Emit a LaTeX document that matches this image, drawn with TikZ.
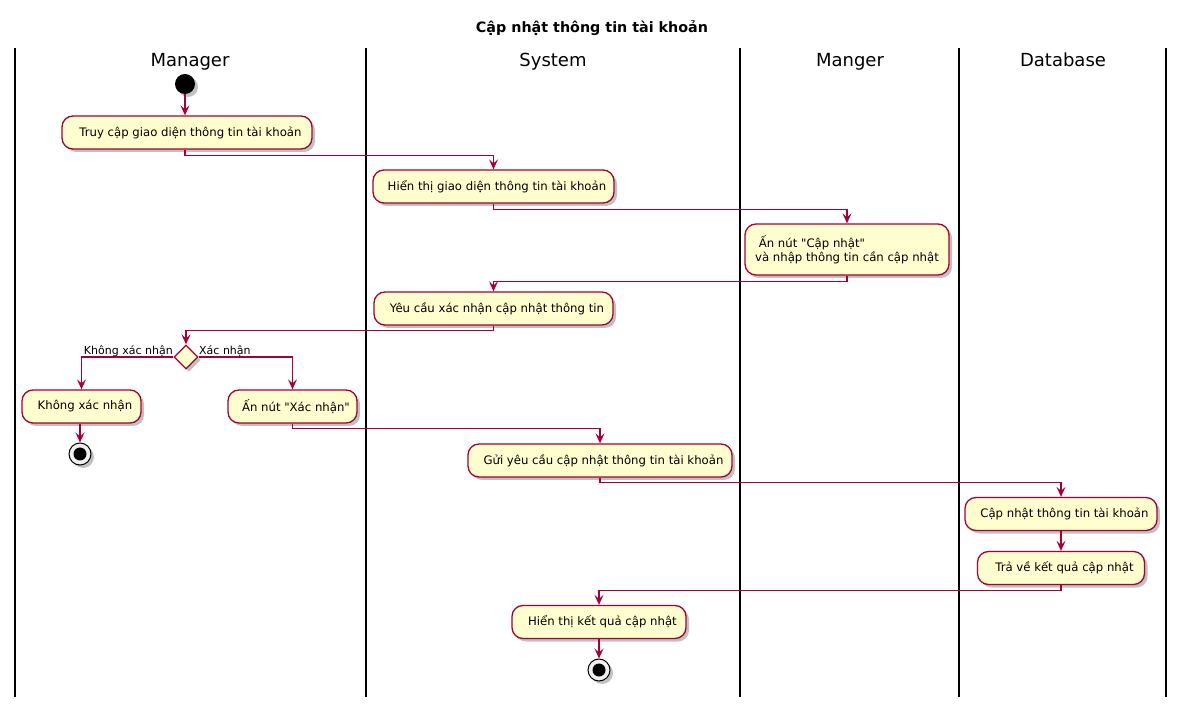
\documentclass[tikz,border=0pt]{standalone}
\usepackage{fontspec}
\setmainfont{DejaVu Sans}[Ligatures=TeXOff]
\usetikzlibrary{arrows.meta,shapes.geometric,shadows}
\definecolor{pfill}{HTML}{FEFECE}
\definecolor{pline}{HTML}{A80036}
\begin{document}
\begin{tikzpicture}[x=1pt,y=-1pt,
  shd/.style={drop shadow={shadow xshift=3pt,shadow yshift=-3pt,opacity=0.35,fill=black!70}},
  act/.style={draw=pline,fill=pfill,line width=1.3pt,rounded corners=11pt,minimum height=33pt,inner xsep=4pt,inner ysep=2pt,font=\fontsize{11.7}{14.5}\selectfont,shd},
  dec/.style={diamond,draw=pline,fill=pfill,line width=1.3pt,minimum width=24pt,minimum height=24pt,inner sep=0pt,shd},
  startnode/.style={circle,fill=black,minimum size=20pt,inner sep=0pt,shd},
  stopnode/.style={circle,draw=black,fill=black!6,line width=1pt,minimum size=22pt,inner sep=0pt,shd},
  stopdot/.style={circle,fill=black,minimum size=13pt,inner sep=0pt},
  arr/.style={draw=pline,line width=1.2pt,-{Stealth[length=10pt,width=9pt,inset=4pt]}},
  lane/.style={draw=black,line width=1.8pt},
  lanetitle/.style={font=\fontsize{18}{20}\selectfont,anchor=base},
  lbl/.style={font=\fontsize{11}{13}\selectfont,inner sep=1pt}
]
\useasboundingbox (0,0) rectangle (1184,708);
\node[font=\bfseries\fontsize{14.3}{16}\selectfont] (title) at (592,28) {Cập nhật thông tin tài khoản};
% lanes
\foreach \x in {15,366,740,959,1166} \draw[lane] (\x,48) -- (\x,697);
\node[lanetitle] (t1) at (190,67) {Manager};
\node[lanetitle] (t2) at (553,67) {System};
\node[lanetitle] (t3) at (850,67) {Manger};
\node[lanetitle] (t4) at (1063,67) {Database};
% nodes
\node[startnode] (s) at (185,84) {};
\node[act,minimum width=250pt] (n1) at (187,132.5) {\phantom{x}Truy cập giao diện thông tin tài khoản};
\node[act,minimum width=241pt] (n2) at (493.5,186.5) {\phantom{x}Hiển thị giao diện thông tin tài khoản};
\node[act,minimum width=204pt,minimum height=51pt,align=left] (n3) at (847,249.5) {\ Ấn nút "Cập nhật"\\và nhập thông tin cần cập nhật};
\node[act,minimum width=239pt] (n4) at (493.5,308.5) {\phantom{x}Yêu cầu xác nhận cập nhật thông tin};
\node[dec] (d) at (186,357) {};
\node[act,minimum width=119pt] (n5) at (81.5,406.5) {\phantom{x}Không xác nhận};
\node[act,minimum width=129pt] (n6) at (292.5,406.5) {\phantom{x}Ấn nút "Xác nhận"};
\node[stopnode] (e1) at (80,454) {};
\node[stopdot] at (e1) {};
\node[act,minimum width=264pt] (n7) at (600,460.5) {\phantom{x}Gửi yêu cầu cập nhật thông tin tài khoản};
\node[act,minimum width=192pt] (n8) at (1061,514) {\phantom{x}Cập nhật thông tin tài khoản};
\node[act,minimum width=167pt] (n9) at (1061,568) {\phantom{x}Trả về kết quả cập nhật};
\node[act,minimum width=174pt] (n10) at (599,622) {\phantom{x}Hiển thị kết quả cập nhật};
\node[stopnode] (e2) at (599,670) {};
\node[stopdot] at (e2) {};
% edges
\draw[arr] (s) -- (n1.north -| s);
\draw[arr] (n1.south -| s) -- ++(0,6) -| (n2.north);
\draw[arr] (n2.south) -- ++(0,6) -| (n3.north);
\draw[arr] (n3.south) -- ++(0,6) -| (n4.north);
\draw[arr] (n4.south) -- ++(0,5) -| (d.north);
\draw[arr] (d.west) -| (n5.north);
\draw[arr] (d.east) -| (n6.north);
\node[lbl,anchor=south east] (l1) at (174,358) {Không xác nhận};
\node[lbl,anchor=south west] (l2) at (198,358) {Xác nhận};
\draw[arr] (n5.south -| e1) -- (e1.north);
\draw[arr] (n6.south) -- ++(0,5) -| (n7.north);
\draw[arr] (n7.south) -- ++(0,5) -| (n8.north);
\draw[arr] (n8.south) -- (n9.north);
\draw[arr] (n9.south) -- ++(0,5) -| (n10.north);
\draw[arr] (n10.south) -- (e2.north);
\end{tikzpicture}
\end{document}
